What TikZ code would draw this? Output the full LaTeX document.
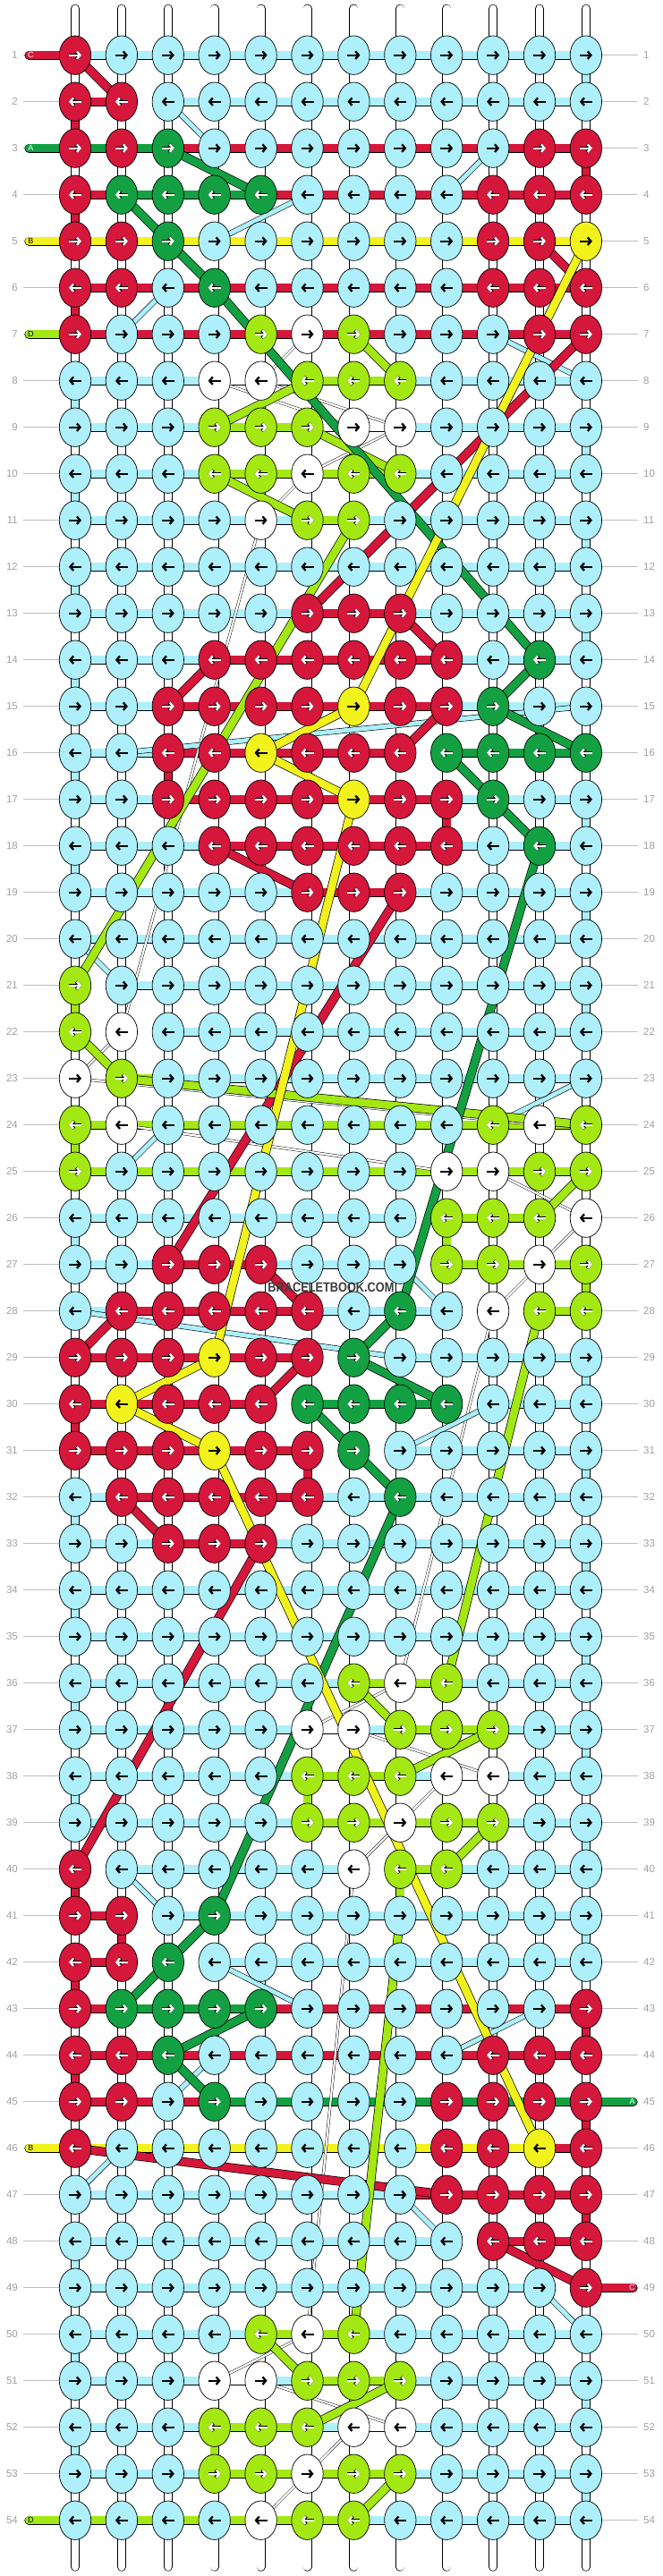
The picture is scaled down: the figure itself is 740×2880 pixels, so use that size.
\documentclass[tikz,border=0pt]{standalone}
\usepackage{fontspec}
\setmainfont{Liberation Sans}
\usetikzlibrary{shapes.geometric,arrows.meta}
\definecolor{kb}{HTML}{ADF0FB}
\definecolor{kr}{HTML}{D4173A}
\definecolor{kg}{HTML}{13A043}
\definecolor{ky}{HTML}{F2F21D}
\definecolor{kl}{HTML}{A3E812}
\definecolor{kw}{HTML}{FFFFFF}
\definecolor{labelgrey}{HTML}{A0A0A0}
\definecolor{wmgrey}{HTML}{3C3C3C}
\pgfdeclarelayer{bg}
\pgfsetlayers{bg,main}

\begin{document}
\begin{tikzpicture}[x=51.9pt,y=-52pt,
  knot/.style={ellipse,draw=black,line width=0.7pt,minimum width=35.4pt,minimum height=43.4pt,inner sep=0pt},
  strand/.style={double=#1,double distance=8.6pt,line width=0.7pt},
  fine/.style={double=#1,double distance=5pt,line width=0.6pt},
  hair/.style={double=white,double distance=2.2pt,line width=0.45pt},
  endstr/.style={double=#1,double distance=8.6pt,line width=0.7pt,line cap=round},
  arw/.style={line width=2.3pt,-{Straight Barb[length=3.6pt,width=8.5pt]}},
  arw-r/.style={white,preaction={draw=black,line width=3.5pt}},
  arw-g/.style={white,preaction={draw=black,line width=3.5pt}},
  arw-l/.style={white,preaction={draw=black,line width=3.5pt}},
  arw-b/.style={black},
  arw-w/.style={black},
  arw-y/.style={black},
  rowlab/.style={text=labelgrey,font=\fontsize{11.5}{12}\selectfont,inner sep=0pt},
  gridline/.style={draw=labelgrey!70,line width=0.8pt},
  lettr/.style={font=\fontsize{9}{9}\selectfont,inner sep=0pt}]
\useasboundingbox (-32.1pt,9.7pt) rectangle (707.9pt,-2870.3pt);

% knots
\foreach \r/\row in {
  1/{r,b,b,b,b,b,b,b,b,b,b,b}, 2/{r,r,b,b,b,b,b,b,b,b,b,b},
  3/{r,r,g,b,b,b,b,b,b,b,r,r}, 4/{r,g,g,g,g,b,b,b,b,r,r,r},
  5/{r,r,g,b,b,b,b,b,b,r,r,y}, 6/{r,r,b,g,b,b,b,b,b,r,r,r},
  7/{r,b,b,b,l,w,l,b,b,b,r,r}, 8/{b,b,b,w,w,l,l,l,b,b,b,b},
  9/{b,b,b,l,l,l,w,w,b,b,b,b}, 10/{b,b,b,l,l,w,l,l,b,b,b,b},
  11/{b,b,b,b,w,l,l,b,b,b,b,b}, 12/{b,b,b,b,b,b,b,b,b,b,b,b},
  13/{b,b,b,b,b,r,r,r,b,b,b,b}, 14/{b,b,b,r,r,r,r,r,r,b,g,b},
  15/{b,b,r,r,r,r,y,r,r,g,b,b}, 16/{b,b,r,r,y,r,r,r,g,g,g,g},
  17/{b,b,r,r,r,r,y,r,r,g,b,b}, 18/{b,b,b,r,r,r,r,r,r,b,g,b},
  19/{b,b,b,b,b,r,r,r,b,b,b,b}, 20/{b,b,b,b,b,b,b,b,b,b,b,b},
  21/{l,b,b,b,b,b,b,b,b,b,b,b}, 22/{l,w,b,b,b,b,b,b,b,b,b,b},
  23/{w,l,b,b,b,b,b,b,b,b,b,b}, 24/{l,w,b,b,b,b,b,b,b,l,w,l},
  25/{l,b,b,b,b,b,b,b,w,w,l,l}, 26/{b,b,b,b,b,b,b,b,l,l,l,w},
  27/{b,b,r,r,r,b,b,b,l,l,w,l}, 28/{b,r,r,r,r,r,b,g,b,w,l,l},
  29/{r,r,r,y,r,r,g,b,b,b,b,b}, 30/{r,y,r,r,r,g,g,g,g,b,b,b},
  31/{r,r,r,y,r,r,g,b,b,b,b,b}, 32/{b,r,r,r,r,r,b,g,b,b,b,b},
  33/{b,b,r,r,r,b,b,b,b,b,b,b}, 34/{b,b,b,b,b,b,b,b,b,b,b,b},
  35/{b,b,b,b,b,b,b,b,b,b,b,b}, 36/{b,b,b,b,b,b,l,w,l,b,b,b},
  37/{b,b,b,b,b,w,w,l,l,l,b,b}, 38/{b,b,b,b,b,l,l,l,w,w,b,b},
  39/{b,b,b,b,b,l,l,w,l,l,b,b}, 40/{r,b,b,b,b,b,w,l,l,b,b,b},
  41/{r,r,b,g,b,b,b,b,b,b,b,b}, 42/{r,r,g,b,b,b,b,b,b,b,b,b},
  43/{r,g,g,g,g,b,b,b,b,b,b,r}, 44/{r,r,g,b,b,b,b,b,b,r,r,r},
  45/{r,r,b,g,b,b,b,b,r,r,r,r}, 46/{r,b,b,b,b,b,b,b,r,r,y,r},
  47/{b,b,b,b,b,b,b,b,r,r,r,r}, 48/{b,b,b,b,b,b,b,b,b,r,r,r},
  49/{b,b,b,b,b,b,b,b,b,b,b,r}, 50/{b,b,b,b,l,w,l,b,b,b,b,b},
  51/{b,b,b,w,w,l,l,l,b,b,b,b}, 52/{b,b,b,l,l,l,w,w,b,b,b,b},
  53/{b,b,b,l,l,w,l,l,b,b,b,b}, 54/{b,b,b,b,w,l,l,b,b,b,b,b}} {
  \foreach \k [count=\c] in \row {
    \node[knot,fill=k\k] (k-\r-\c) at (\c,\r) {};
    \ifodd\r
      \draw[arw,arw-\k] ([xshift=-7pt]k-\r-\c.center) -- ([xshift=7pt]k-\r-\c.center);
    \else
      \draw[arw,arw-\k] ([xshift=7pt]k-\r-\c.center) -- ([xshift=-7pt]k-\r-\c.center);
    \fi
  }
}

% row numbers
\foreach \r in {1,...,54} {
  \node[rowlab,anchor=east] (ln-\r) at ([xshift=-12.1pt]0,\r) {\r};
  \node[rowlab,anchor=west] (rn-\r) at ([xshift=686.9pt]0,\r) {\r};
  \coordinate (gl-\r) at ([xshift=-6.1pt]0,\r);
  \coordinate (gr-\r) at ([xshift=680.9pt]0,\r);
  \coordinate (tl-\r) at ([xshift=0.3pt]0,\r);
  \coordinate (tr-\r) at ([xshift=675.5pt]0,\r);
}

\node[font=\bfseries\fontsize{15}{15}\selectfont,text=wmgrey,inner sep=0pt] (wm) at (6.51,27.5) {\scalebox{0.85}[1]{BRACELETBOOK.COM}};

\begin{pgfonlayer}{bg}
  \foreach \r in {1,...,54} {
    \draw[gridline] (gl-\r) -- (k-\r-1.center);
    \draw[gridline] (gr-\r) -- (k-\r-12.center);
  }
  % string ends
  \foreach \c in {1,...,12} {
    \coordinate (st-\c) at (\c,0);
    \coordinate (sb-\c) at (\c,55);
    \draw[endstr=white] (st-\c) -- (k-1-\c.center);
    \draw[endstr=white] (sb-\c) -- (k-54-\c.center);
  }
  % vertical links
  \foreach \r in {1,...,53} {
    \pgfmathtruncatemacro\s{\r+1}
    \foreach \c in {1,...,12}
      \draw[strand=white] (k-\r-\c.center) -- (k-\s-\c.center);
  }
  \foreach \r/\c/\k in {1/12/b,2/1/r,3/12/r,4/1/r,6/1/r,8/1/b,9/12/b,10/1/b,11/12/b,
      12/1/b,13/12/b,14/1/b,16/1/b,17/12/b,18/1/b,19/12/b,21/12/b,24/1/l,26/1/b,
      27/12/l,29/12/b,30/1/r,31/12/b,32/1/b,33/12/b,34/1/b,35/12/b,36/1/b,37/12/b,
      38/1/b,39/12/b,40/1/r,41/12/b,42/1/r,43/12/r,44/1/r,45/12/r,47/12/r,48/1/b,
      50/1/b,51/12/b,52/1/b,53/12/b,16/3/r,17/9/r,21/1/l,26/9/l,31/6/r,38/6/l,
      40/8/l,52/4/l,41/2/r} {
    \pgfmathtruncatemacro\s{\r+1}
    \draw[strand=k\k] (k-\r-\c.center) -- (k-\s-\c.center);
  }
  % row bars
  \foreach \r/\row in {
    1/{b,b,b,b,b,b,b,b,b,b,b}, 2/{r,n,b,b,b,b,b,b,b,b,b},
    3/{g,g,r,r,r,r,r,r,r,r,r}, 4/{r,g,g,g,r,r,r,r,r,r,r},
    5/{y,y,y,y,y,y,y,y,y,y,y}, 6/{r,r,r,r,r,r,r,r,r,r,r},
    7/{r,r,r,r,r,r,r,r,r,r,r}, 8/{b,b,b,w,w,l,l,b,b,b,b},
    9/{b,b,b,l,l,w,w,b,b,b,b}, 10/{b,b,b,l,l,l,l,b,b,b,b},
    11/{b,b,b,b,b,l,b,b,b,b,b}, 12/{b,b,b,b,b,b,b,b,b,b,b},
    13/{b,b,b,b,b,r,r,b,b,b,b}, 14/{b,b,b,r,r,r,r,r,b,b,b},
    15/{b,b,r,r,r,r,r,r,b,b,b}, 16/{b,b,r,r,r,r,r,n,g,g,g},
    17/{b,b,r,r,r,r,r,r,b,b,b}, 18/{b,b,b,r,r,r,r,r,b,b,b},
    19/{b,b,b,b,b,r,r,b,b,b,b}, 20/{b,b,b,b,b,b,b,b,b,b,b},
    21/{n,b,b,b,b,b,b,b,b,b,b}, 22/{n,n,b,b,b,b,b,b,b,b,b},
    23/{n,l,b,b,b,b,b,b,b,b,b}, 24/{l,l,l,l,l,l,l,l,l,l,l},
    25/{l,l,l,l,l,l,l,l,l,l,l}, 26/{b,b,b,b,b,b,b,n,l,l,n},
    27/{b,b,r,r,b,b,b,n,l,l,l}, 28/{b,r,r,r,r,b,b,b,n,n,l},
    29/{r,r,r,r,r,n,n,b,b,b,b}, 30/{r,r,r,r,n,g,g,g,n,b,b},
    31/{r,r,r,r,r,n,n,b,b,b,b}, 32/{b,r,r,r,r,b,b,b,b,b,b},
    33/{b,b,r,r,b,b,b,b,b,b,b}, 34/{b,b,b,b,b,b,b,b,b,b,b},
    35/{b,b,b,b,b,b,b,b,b,b,b}, 36/{b,b,b,b,b,b,l,l,b,b,b},
    37/{b,b,b,b,b,w,b,l,l,b,b}, 38/{b,b,b,b,b,l,l,b,w,b,b},
    39/{b,b,b,b,b,l,l,l,l,b,b}, 40/{n,b,b,b,b,b,n,l,b,b,b},
    41/{r,n,b,b,b,b,b,b,b,b,b}, 42/{r,n,n,b,b,b,b,b,b,b,b},
    43/{r,g,g,g,r,r,r,r,r,r,r}, 44/{r,r,r,r,r,r,r,r,r,r,r},
    45/{r,r,r,g,g,g,g,g,g,g,g}, 46/{y,y,y,y,y,y,y,y,y,y,r},
    47/{b,b,b,b,b,b,b,r,r,r,r}, 48/{b,b,b,b,b,b,b,b,n,r,r},
    49/{b,b,b,b,b,b,b,b,b,b,n}, 50/{b,b,b,b,l,l,b,b,b,b,b},
    51/{b,b,b,w,b,l,l,b,b,b,b}, 52/{b,b,b,l,l,b,w,b,b,b,b},
    53/{b,b,b,l,l,l,l,b,b,b,b}, 54/{l,l,l,l,l,l,b,b,b,b,b}} {
    \foreach \k [count=\c] in \row {
      \pgfmathtruncatemacro\d{\c+1}
      \if\k n\else\draw[strand=k\k] (k-\r-\c.center) -- (k-\r-\d.center);\fi
    }
  }
  % thread ends
  \foreach \r/\k in {1/r,3/g,5/y,7/l,46/y,54/l}
    \draw[endstr=k\k] (tl-\r) -- (k-\r-1.center);
  \foreach \r/\k in {45/g,49/r}
    \draw[endstr=k\k] (tr-\r) -- (k-\r-12.center);
  % white strands
  \foreach \a/\b/\c/\d in {7/6/8/5,8/4/9/7,8/5/9/8,9/8/10/6,10/6/11/5,11/5/22/2,
      22/2/23/1,23/1/24/11,24/2/25/9,25/10/26/12,26/12/27/11,27/11/28/10,
      28/10/36/8,36/8/37/6,37/7/38/10,38/9/39/8,39/8/40/7,40/7/50/6,50/6/51/4,
      51/5/52/8,52/7/53/6,53/6/54/5}
    \draw[hair] (k-\a-\b.center) -- (k-\c-\d.center);
  % light blue strands
  \foreach \a/\b/\c/\d in {2/3/3/4,3/10/4/9,4/6/5/4,6/3/7/2,7/10/8/12,15/12/16/2,
      20/1/21/2,23/12/24/10,24/3/25/2,27/8/28/9,28/1/29/8,30/10/31/8,40/2/41/3,
      42/4/43/6,43/11/44/9,44/4/45/3,46/2/47/1,47/8/48/9,49/11/50/12}
    \draw[fine=kb] (k-\a-\b.center) -- (k-\c-\d.center);
  % red strands
  \foreach \a/\b/\c/\d in {1/1/2/2,5/11/6/12,7/12/13/6,13/8/14/9,14/4/15/3,15/9/16/8,
      18/4/19/6,19/8/27/3,27/5/28/6,28/2/29/1,29/6/30/5,32/2/33/3,33/5/40/1,
      46/1/47/9,48/10/49/12}
    \draw[strand=kr] (k-\a-\b.center) -- (k-\c-\d.center);
  % lime strands
  \foreach \a/\b/\c/\d in {7/7/8/8,8/6/9/4,9/6/10/8,10/4/11/6,11/7/21/1,22/1/23/2,
      23/2/24/12,25/12/26/11,28/11/36/9,36/7/37/8,37/10/38/8,39/10/40/9,41/8/50/7,
      50/5/51/6,51/8/52/6,53/8/54/7}
    \draw[strand=kl] (k-\a-\b.center) -- (k-\c-\d.center);
  % green strand
  \draw[strand=kg] (k-3-3.center) -- (k-4-5.center);
  \draw[strand=kg] (k-4-2.center) -- (k-5-3.center) -- (k-6-4.center) -- (k-14-11.center)
    -- (k-15-10.center) -- (k-16-12.center);
  \draw[strand=kg] (k-16-9.center) -- (k-17-10.center) -- (k-18-11.center) -- (k-28-8.center)
    -- (k-29-7.center) -- (k-30-9.center);
  \draw[strand=kg] (k-30-6.center) -- (k-31-7.center) -- (k-32-8.center) -- (k-41-4.center)
    -- (k-42-3.center) -- (k-43-2.center);
  \draw[strand=kg] (k-43-5.center) -- (k-44-3.center) -- (k-45-4.center);
  % yellow strand
  \draw[strand=ky] (k-5-12.center) -- (k-15-7.center) -- (k-16-5.center) -- (k-17-7.center)
    -- (k-29-4.center) -- (k-30-2.center) -- (k-31-4.center) -- (k-46-11.center);
\end{pgfonlayer}

% thread letters
\foreach \r/\t/\tc in {1/C/white,3/A/white,5/B/black,7/D/black,46/B/black,54/D/black}
  \node[lettr,text=\tc] (let-\r) at ([xshift=2pt]tl-\r) {\t};
\foreach \r/\t in {45/A,49/C}
  \node[lettr,text=white] (let-\r) at ([xshift=-1pt]tr-\r) {\t};
\end{tikzpicture}
\end{document}
